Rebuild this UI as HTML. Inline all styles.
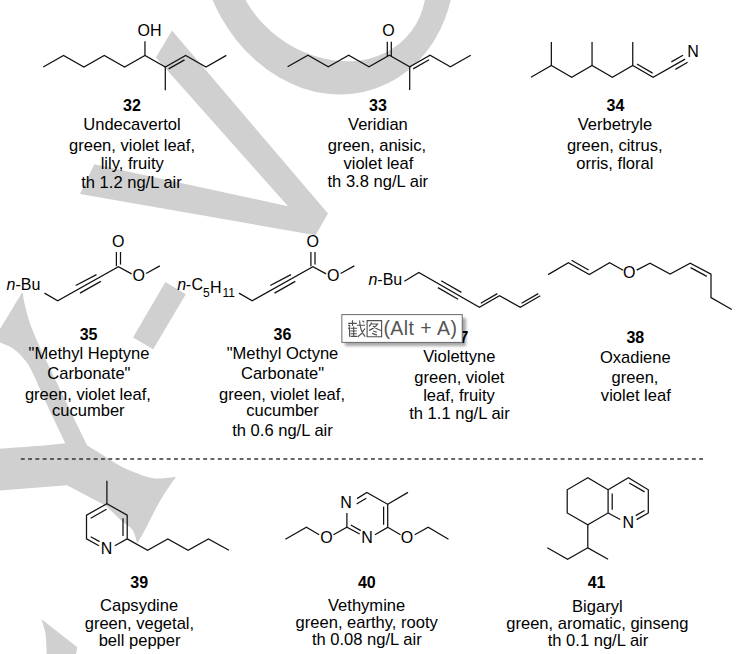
<!DOCTYPE html>
<html><head><meta charset="utf-8"><title>figure</title>
<style>
html,body{margin:0;padding:0;background:#fff;}
body{width:740px;height:654px;overflow:hidden;}
svg{display:block;}
.t{font-family:"Liberation Sans",sans-serif;font-size:16px;fill:#000;stroke:none;}
.b{font-family:"Liberation Sans",sans-serif;font-size:16px;font-weight:bold;fill:#000;stroke:none;}
.a{font-family:"Liberation Sans",sans-serif;font-size:16px;fill:#000;stroke:none;}
.s{font-family:"Liberation Sans",sans-serif;font-size:12px;fill:#000;stroke:none;}
</style></head><body>
<svg width="740" height="654" viewBox="0 0 740 654">
<rect width="740" height="654" fill="#fff"/>
<g fill="#d0d0d0" stroke="none"><path fill-rule="evenodd" d="M277.36,-191.09 A148.14,124.39 -109.5 1,0 376.26,88.19 A148.14,124.39 -109.5 1,0 277.36,-191.09 Z M247.52,-92.28 A102.56,84.19 -142.96 1,0 411.24,31.28 A102.56,84.19 -142.96 1,0 247.52,-92.28 Z"/>
<polygon points="172,30.4 328,213.5 315.5,235.3 80,194 94.3,164.3 288,206.2 155.9,57.4"/>
<polygon points="165.4,282.1 185.8,294.3 153.2,349.3 133,337.5"/>
<path d="M0,329 L22.6,291.7 L22.6,291.7 C22.92,293.63 23.37,298.3 24.5,303.3 C25.63,308.3 27.37,315.58 29.4,321.7 C31.43,327.82 33.95,333.62 36.7,340 C39.45,346.38 40.93,349.53 45.9,360 C50.87,370.47 59.62,388.53 66.5,402.8 C73.38,417.07 83.75,438.47 87.2,445.6 L87.2,445.6 C89.33,446.88 95.2,450.32 100,453.3 C104.8,456.28 110.8,460.55 116,463.5 C121.2,466.45 124.95,468.55 131.2,471 C137.45,473.45 146.07,477.2 153.5,478.2 C160.93,479.2 172.08,477.2 175.8,477 L175.8,477 C173.67,480.17 166.72,490 163,496 C159.28,502 156.33,507.67 153.5,513 C150.67,518.33 148.7,522.92 146,528 C143.3,533.08 138.75,540.92 137.3,543.5 L137.3,543.5 C136.5,541.25 135.12,533.8 132.5,530 C129.88,526.2 126.12,524.78 121.6,520.7 C117.08,516.62 108.1,508.03 105.4,505.5 L105.4,505.5 L66.9,485.2 L66.9,485.2 L0,490.6 L0,490.6 L0,448.7 L0,448.7 C6.67,448.22 29.12,446.72 40,445.8 C50.88,444.88 61.08,443.63 65.3,443.2 L65.3,443.2 C62.17,436.58 52.13,415.62 46.5,403.5 C40.87,391.38 35.33,378 31.5,370.5 C27.67,363 26.58,362.17 23.5,358.5 C20.42,354.83 16.92,351.17 13,348.5 C9.08,345.83 2.17,343.5 0,342.5 Z"/>
<path d="M41.3,619 L77.3,647.2 L77.3,647.2 L75.6,656 L75.6,656 L46.6,656 L46.6,656 C46.55,654.17 46.53,649 46.3,645 C46.07,641 46.03,636.33 45.2,632 C44.37,627.67 41.95,621.17 41.3,619 Z"/></g>
<g stroke="#111" stroke-width="1.25" fill="none" stroke-linejoin="miter" stroke-linecap="butt">
<polyline points="43.2,67 63.55,55.4 83.9,67 104.25,55.4 124.6,67 144.95,55.4 165.3,67 185.65,55.4 206,67 226.35,55.4"/>
<line x1="144.95" y1="55.4" x2="144.95" y2="41.2"/>
<line x1="165.3" y1="67" x2="165.3" y2="90.3"/>
<line x1="168.7" y1="68.9" x2="184.5" y2="59.9"/>
<text x="137.6" y="35.5" class="a" text-anchor="start">OH</text>
<polyline points="287.6,66.8 307.95,55.3 328.3,66.8 348.65,55.3 369,66.8 389.35,55.3 409.7,66.8 430.05,55.3 450.4,66.8 470.75,55.3"/>
<line x1="387.3" y1="41.7" x2="387.3" y2="56"/>
<line x1="391.3" y1="41.7" x2="391.3" y2="56"/>
<line x1="409.7" y1="66.8" x2="409.7" y2="89.9"/>
<line x1="413.1" y1="68.9" x2="429.1" y2="59.7"/>
<text x="388.6" y="36.1" class="a" text-anchor="middle">O</text>
<polyline points="531,77.2 551.35,65.4 571.7,77.2 592.05,65.4 612.4,77.2 632.75,65.4 653.1,77.2 685.1,59.1"/>
<line x1="551.35" y1="65.4" x2="551.35" y2="42.1"/>
<line x1="592.05" y1="65.4" x2="592.05" y2="42.1"/>
<line x1="632.75" y1="65.4" x2="632.75" y2="42.1"/>
<line x1="637" y1="64.05" x2="652.6" y2="73.1"/>
<line x1="671.4" y1="61.9" x2="683" y2="55.2"/>
<line x1="675.4" y1="69.4" x2="687.6" y2="62.3"/>
<text x="693.1" y="56.9" class="a" text-anchor="middle">N</text>
<polyline points="44.5,293.1 57.7,300.7 118.4,266.7 131.6,273.9"/>
<line x1="75.7" y1="285.5" x2="96.5" y2="274.6"/>
<line x1="80" y1="293.1" x2="100.8" y2="281.4"/>
<line x1="116.4" y1="252" x2="116.4" y2="266.2"/>
<line x1="120.5" y1="252" x2="120.5" y2="264.6"/>
<text x="118.3" y="246.7" class="a" text-anchor="middle">O</text>
<text x="138.7" y="281.4" class="a" text-anchor="middle">O</text>
<line x1="146.1" y1="273.5" x2="159.8" y2="265.9"/>
<polyline points="239,293.1 252.2,300.7 312.9,266.7 326.1,273.9"/>
<line x1="270.2" y1="285.5" x2="291" y2="274.6"/>
<line x1="274.5" y1="293.1" x2="295.3" y2="281.4"/>
<line x1="310.9" y1="252" x2="310.9" y2="266.2"/>
<line x1="315" y1="252" x2="315" y2="264.6"/>
<text x="312.8" y="246.7" class="a" text-anchor="middle">O</text>
<text x="333.2" y="281.4" class="a" text-anchor="middle">O</text>
<line x1="340.6" y1="273.5" x2="354.3" y2="265.9"/>
<text x="6.6" y="289.5" class="a"><tspan font-style="italic">n</tspan>-Bu</text>
<text x="181.7" y="290.3" class="a" text-anchor="middle" font-style="italic">n</text>
<text x="188.3" y="290.3" class="a" text-anchor="middle">-</text>
<text x="197.3" y="290.3" class="a" text-anchor="middle">C</text>
<text x="206.4" y="296.5" class="s" text-anchor="middle">5</text>
<text x="215.9" y="292.6" class="a" text-anchor="middle">H</text>
<text x="228.7" y="296.5" class="s" text-anchor="middle">11</text>
<text x="368.4" y="285" class="a"><tspan font-style="italic">n</tspan>-Bu</text>
<polyline points="404.4,281.3 418.8,272.5 479.4,307.3 499.5,295.7 520.3,307.3 540.3,295.7"/>
<line x1="441.2" y1="280.8" x2="461.4" y2="292.4"/>
<line x1="437.9" y1="287.6" x2="458.1" y2="299.2"/>
<line x1="480.8" y1="303.3" x2="497.3" y2="293.6"/>
<line x1="521.5" y1="303.3" x2="538.3" y2="293.6"/>
<polyline points="548.1,274.6 568.4,262.8 589.3,274.6 609.6,262.8 623.1,270.3"/>
<line x1="571.5" y1="260.2" x2="588.6" y2="270"/>
<text x="629.2" y="277.7" class="a" text-anchor="middle">O</text>
<polyline points="636.7,270.1 650,263.1 670.1,274.1 690.2,263.1 711,274.1 711,297.6 731.8,309.5"/>
<line x1="690.6" y1="267.6" x2="706.8" y2="276.4"/>
<polyline points="114.8,545.8 127.2,538.9 127.2,515.2 106.9,503.7 86.5,515.2 86.5,538.9 98.9,545.8"/>
<line x1="106.9" y1="503.7" x2="106.9" y2="480.7"/>
<line x1="90.7" y1="518.2" x2="106.5" y2="509.3"/>
<line x1="123" y1="518.2" x2="123" y2="536.1"/>
<line x1="90.7" y1="536.8" x2="99.6" y2="541.6"/>
<text x="106.6" y="553.7" class="a" text-anchor="middle">N</text>
<polyline points="127.2,538.9 147.6,550.3 167.8,538.9 188.1,550.3 208.4,538.9 229,550.3"/>
<polyline points="285.4,539.2 306.4,527.3 319.2,534.7"/>
<text x="326.4" y="542.8" class="a" text-anchor="middle">O</text>
<polyline points="333.4,534.7 346.9,527.3 359.7,534"/>
<line x1="346.9" y1="527.3" x2="346.9" y2="513.1"/>
<text x="346" y="507.7" class="a" text-anchor="middle">N</text>
<polyline points="357,498.6 366.8,492.4 387.7,504.3 387.7,527.3 374.9,534.7"/>
<line x1="356.6" y1="504" x2="366.3" y2="498.2"/>
<line x1="383.6" y1="506.6" x2="383.6" y2="524.8"/>
<line x1="350.8" y1="525" x2="360.8" y2="530.6"/>
<text x="367.1" y="542.8" class="a" text-anchor="middle">N</text>
<line x1="387.7" y1="504.3" x2="408" y2="492.4"/>
<line x1="387.7" y1="527.3" x2="400.5" y2="534.7"/>
<text x="407" y="542.8" class="a" text-anchor="middle">O</text>
<polyline points="414.7,534.7 428.2,527.3 448.5,539.2"/>
<polygon points="587.8,477.8 567.2,489.8 567.2,513 587.8,524.8 608.1,513 608.1,489.8"/>
<polyline points="608.1,489.8 628.4,477.8 648.3,489.8 648.3,513 636.6,519.6"/>
<line x1="608.1" y1="513" x2="620.3" y2="519.5"/>
<line x1="612.2" y1="493.5" x2="612.2" y2="509.7"/>
<line x1="629.2" y1="483" x2="644.6" y2="491.9"/>
<line x1="644.6" y1="510.5" x2="635.7" y2="515.6"/>
<text x="628.4" y="527.6" class="a" text-anchor="middle">N</text>
<polyline points="587.8,524.8 587.8,547.8 608.1,559.2"/>
<polyline points="587.8,547.8 567.6,559.2 547.3,547.8"/>
<line x1="20.8" y1="459" x2="703" y2="459" stroke-width="1.3" stroke-dasharray="3.9 3.395" stroke="#333"/>
<text x="131.9" y="110.9" class="b" text-anchor="middle">32</text>
<text transform="translate(132 129.7) scale(1.035 1)" class="t" text-anchor="middle">Undecavertol</text>
<text transform="translate(132 150.6) scale(1.035 1)" class="t" text-anchor="middle">green, violet leaf,</text>
<text transform="translate(132.2 168.6) scale(1.035 1)" class="t" text-anchor="middle">lily, fruity</text>
<text transform="translate(131.5 187.5) scale(1.035 1)" class="t" text-anchor="middle">th 1.2 ng/L air</text>
<text x="377.9" y="110.9" class="b" text-anchor="middle">33</text>
<text transform="translate(377.9 129.7) scale(1.035 1)" class="t" text-anchor="middle">Veridian</text>
<text transform="translate(376.9 150.9) scale(1.035 1)" class="t" text-anchor="middle">green, anisic,</text>
<text transform="translate(378.4 168.5) scale(1.035 1)" class="t" text-anchor="middle">violet leaf</text>
<text transform="translate(377.8 186.9) scale(1.035 1)" class="t" text-anchor="middle">th 3.8 ng/L air</text>
<text x="615.5" y="110.9" class="b" text-anchor="middle">34</text>
<text transform="translate(614.9 129.7) scale(1.035 1)" class="t" text-anchor="middle">Verbetryle</text>
<text transform="translate(614.7 150.9) scale(1.035 1)" class="t" text-anchor="middle">green, citrus,</text>
<text transform="translate(614.8 168.5) scale(1.035 1)" class="t" text-anchor="middle">orris, floral</text>
<text x="88.6" y="340.2" class="b" text-anchor="middle">35</text>
<text transform="translate(89 359.2) scale(1.035 1)" class="t" text-anchor="middle">&quot;Methyl Heptyne</text>
<text transform="translate(88.9 379) scale(1.035 1)" class="t" text-anchor="middle">Carbonate&quot;</text>
<text transform="translate(87.9 400) scale(1.035 1)" class="t" text-anchor="middle">green, violet leaf,</text>
<text transform="translate(88.3 416.1) scale(1.035 1)" class="t" text-anchor="middle">cucumber</text>
<text x="282.5" y="340.2" class="b" text-anchor="middle">36</text>
<text transform="translate(282.5 359.1) scale(1.035 1)" class="t" text-anchor="middle">&quot;Methyl Octyne</text>
<text transform="translate(282.5 379) scale(1.035 1)" class="t" text-anchor="middle">Carbonate&quot;</text>
<text transform="translate(282 399.7) scale(1.035 1)" class="t" text-anchor="middle">green, violet leaf,</text>
<text transform="translate(282.5 415.5) scale(1.035 1)" class="t" text-anchor="middle">cucumber</text>
<text transform="translate(282.5 436.1) scale(1.035 1)" class="t" text-anchor="middle">th 0.6 ng/L air</text>
<text x="459.4" y="343" class="b" text-anchor="middle">37</text>
<text transform="translate(459.3 361.8) scale(1.035 1)" class="t" text-anchor="middle">Violettyne</text>
<text transform="translate(459.4 383.2) scale(1.035 1)" class="t" text-anchor="middle">green, violet</text>
<text transform="translate(459 400.8) scale(1.035 1)" class="t" text-anchor="middle">leaf, fruity</text>
<text transform="translate(459.5 419.1) scale(1.035 1)" class="t" text-anchor="middle">th 1.1 ng/L air</text>
<text x="635.3" y="342.7" class="b" text-anchor="middle">38</text>
<text transform="translate(635.3 362.8) scale(1.035 1)" class="t" text-anchor="middle">Oxadiene</text>
<text transform="translate(635 383) scale(1.035 1)" class="t" text-anchor="middle">green,</text>
<text transform="translate(635.8 400.6) scale(1.035 1)" class="t" text-anchor="middle">violet leaf</text>
<text x="139.2" y="587.9" class="b" text-anchor="middle">39</text>
<text transform="translate(139.1 610.9) scale(1.035 1)" class="t" text-anchor="middle">Capsydine</text>
<text transform="translate(139.4 628.8) scale(1.035 1)" class="t" text-anchor="middle">green, vegetal,</text>
<text transform="translate(139.6 645.5) scale(1.035 1)" class="t" text-anchor="middle">bell pepper</text>
<text x="366.8" y="587.9" class="b" text-anchor="middle">40</text>
<text transform="translate(366.6 611) scale(1.035 1)" class="t" text-anchor="middle">Vethymine</text>
<text transform="translate(366.7 628.3) scale(1.035 1)" class="t" text-anchor="middle">green, earthy, rooty</text>
<text transform="translate(366.8 645.2) scale(1.035 1)" class="t" text-anchor="middle">th 0.08 ng/L air</text>
<text x="596.6" y="587.9" class="b" text-anchor="middle">41</text>
<text transform="translate(597.3 611.5) scale(1.035 1)" class="t" text-anchor="middle">Bigaryl</text>
<text transform="translate(597.3 629.1) scale(1.035 1)" class="t" text-anchor="middle">green, aromatic, ginseng</text>
<text transform="translate(598 646.1) scale(1.035 1)" class="t" text-anchor="middle">th 0.1 ng/L air</text>
</g>
<defs><filter id="sh" x="-10%" y="-20%" width="130%" height="160%"><feGaussianBlur stdDeviation="1.6"/></filter></defs>
<rect x="345" y="318" width="121" height="28" fill="#000" opacity="0.35" filter="url(#sh)"/>
<rect x="341.85" y="314.6" width="120.4" height="27.8" fill="#fff" stroke="#6a6a6a" stroke-width="1"/>
<g stroke="#505050" stroke-width="1.15" fill="none" stroke-linecap="butt"><path d="M348.2,323.4 h8.6 M352.5,320.3 v5.8 M350,326.2 l-1.6,2.6 M349.6,328 v8.8 M350.6,328.2 h6.6 M353.7,326.4 v10.2 M350.6,331 h6.2 M350.6,333.7 h6.2 M350.6,336.4 h6.8 M348.2,325.3 h2 M357,325.2 h8 M359.6,320.4 c0.2,6.2 1.6,11.6 5.6,16.2 M364.9,328.6 c-1.7,3.3 -3.8,6 -7,8.1 M362.4,320.8 l1.9,1.4"/><path d="M367.1,320.6 h14.5 v16.1 h-14.5 z M371.6,322.5 c-0.5,1.6 -1.4,2.9 -2.6,4 M371.4,324 h6.3 c-2.2,3.2 -5.2,5.2 -8.6,6.4 M372.8,325.9 c2.5,2.4 5.2,3.9 8.2,4.6 M373.2,331 l3.6,1.3 M372.2,333.4 l4.8,1.7"/></g>
<text x="383.4" y="335.4" font-size="19.5" fill="#555" stroke="none" letter-spacing="0.45" font-family="Liberation Sans, sans-serif">(Alt + A)</text>
</svg>
</body></html>
